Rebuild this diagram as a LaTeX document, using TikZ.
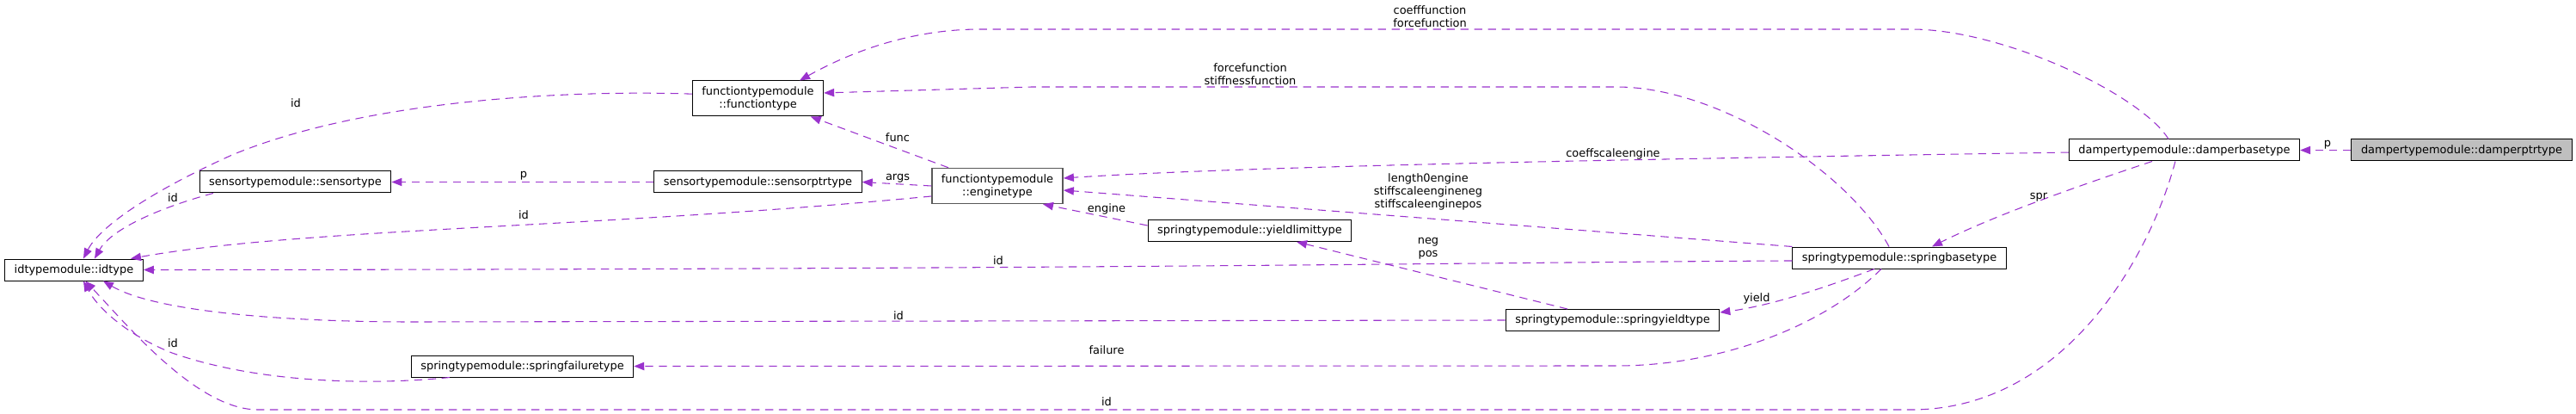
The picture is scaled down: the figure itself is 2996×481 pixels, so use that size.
\documentclass[tikz,border=0pt]{standalone}
\usepackage{fontspec}
\setmainfont{DejaVu Sans}
\usetikzlibrary{arrows.meta}
\definecolor{orchidedge}{HTML}{9A32CD}
\definecolor{ptrgray}{HTML}{BFBFBF}
\tikzset{
  cbox/.style={rectangle, draw=#1, fill=white, line width=0.75pt,
               minimum height=18.75pt, inner xsep=8.3pt, inner ysep=2pt,
               align=center, font=\fontsize{9.7}{11.25}\selectfont},
  cbox/.default=black,
  tbox/.style={cbox=#1, minimum height=30.75pt},
  tbox/.default=black,
  lbl/.style={inner sep=0pt, align=center, font=\fontsize{9.7}{11.25}\selectfont},
  arr/.style={-{Triangle[length=9pt, width=7pt]}, line width=0.8pt,
              dash pattern=on 7pt off 5pt, #1},
  arr/.default=orchidedge,
}

\begin{document}
\begin{tikzpicture}[x=0.75pt, y=-0.75pt]
  \useasboundingbox (0,0) rectangle (2996,481);

  % classes
  \node[cbox] (idtype) at (86,313.5) {idtypemodule::idtype};
  \node[tbox] (functiontype) at (881.5,114.5) {functiontypemodule\\::functiontype};
  \node[cbox] (sensortype) at (343.5,211.5) {sensortypemodule::sensortype};
  \node[cbox] (sensorptrtype) at (881.5,211.5) {sensortypemodule::sensorptrtype};
  \node[tbox=black!65, line width=1.1pt] (enginetype) at (1160,216) {functiontypemodule\\::enginetype};
  \node[cbox] (yieldlimittype) at (1453.5,268) {springtypemodule::yieldlimittype};
  \node[cbox] (springfailuretype) at (607.5,425.5) {springtypemodule::springfailuretype};
  \node[cbox] (springyieldtype) at (1875.5,372) {springtypemodule::springyieldtype};
  \node[cbox] (springbasetype) at (2209,299.5) {springtypemodule::springbasetype};
  \node[cbox] (damperbasetype) at (2540.5,174.5) {dampertypemodule::damperbasetype};
  \node[cbox, fill=ptrgray] (damperptrtype) at (2863,174.5) {dampertypemodule::damperptrtype};

  % references to idtype
  \draw[arr] ([yshift=4pt]functiontype.west) .. controls (650,104) and (420,118) .. (270,180)
    .. controls (170,225) and (115,265) .. ([xshift=8.25pt]idtype.north);
  \draw[arr] ([xshift=-71.6pt]sensortype.south) .. controls (190,240) and (130,265) .. ([xshift=18pt]idtype.north);
  \draw[arr] ([yshift=-9pt]enginetype.west) .. controls (700,265) and (350,265) .. ([xshift=49.5pt]idtype.north);
  \draw[arr] ([yshift=-2.6pt]springbasetype.west) .. controls (1700,305) and (1300,313) .. (idtype.east);
  \draw[arr] (springyieldtype.west) -- (480,374) .. controls (330,374) and (180,362) .. ([xshift=25.5pt]idtype.south);
  \draw[arr] ([xshift=-63.4pt]springfailuretype.south) .. controls (430,448) and (300,445) .. (200,410)
    .. controls (150,390) and (115,360) .. ([xshift=8.25pt]idtype.south);
  \draw[arr] ([xshift=-7.9pt]damperbasetype.south) .. controls (2500,300) and (2400,476) .. (2223,476)
    -- (300,476) .. controls (230,476) and (150,380) .. ([xshift=10pt]idtype.south);

  % other references
  \draw[arr] (sensorptrtype.west) -- (sensortype.east);
  \draw[arr] (enginetype.west) -- (sensorptrtype.east);
  \draw[arr] ([xshift=-42.75pt]enginetype.north) -- ([xshift=46pt]functiontype.south);
  \draw[arr] ([xshift=-13.9pt]damperbasetype.north) .. controls (2490,110) and (2330,34) .. (2223,34)
    -- (1140,34) .. controls (1060,34) and (990,60) .. ([xshift=36.4pt]functiontype.north);
  \draw[arr] ([xshift=-9pt]springbasetype.north) .. controls (2150,200) and (2000,101) .. (1880,101)
    -- (1200,101) -- ([yshift=4.9pt]functiontype.east);
  \draw[arr] ([yshift=-1.9pt]damperbasetype.west) .. controls (1900,185) and (1450,193) .. ([yshift=6.75pt]enginetype.east);
  \draw[arr] (springbasetype.north west) -- ([yshift=-3.75pt]enginetype.east);
  \draw[arr] ([xshift=-39.4pt]springyieldtype.north) -- ([xshift=40.9pt]yieldlimittype.south);
  \draw[arr] ([yshift=4.5pt]yieldlimittype.west) -- ([xshift=39.75pt]enginetype.south);
  \draw[arr] ([xshift=-21.75pt]springbasetype.south) .. controls (2120,335) and (2060,355) .. ([yshift=6.75pt]springyieldtype.east);
  \draw[arr] ([xshift=-15.75pt]springbasetype.south) .. controls (2120,380) and (2000,425) .. (1880,425)
    -- (springfailuretype.east);
  \draw[arr] ([xshift=-28.1pt]damperbasetype.south) .. controls (2420,215) and (2320,250) .. ([xshift=28.5pt]springbasetype.north);
  \draw[arr] (damperptrtype.west) -- (damperbasetype.east);

  % labels
  \node[lbl] (lidfunc) at (344,120) {id};
  \node[lbl] (lidsens) at (201,230) {id};
  \node[lbl] (lideng) at (609,250) {id};
  \node[lbl] (lidspr) at (1161,303) {id};
  \node[lbl] (lidyld) at (1045,367) {id};
  \node[lbl] (lidfail) at (201,399) {id};
  \node[lbl] (liddmp) at (1287,467) {id};
  \node[lbl] (lpsens) at (609,204) {p};
  \node[lbl] (largs) at (1044,207) {args};
  \node[lbl] (lfunc) at (1044,160) {func};
  \node[lbl] (lcoeff) at (1663,19.5) {coefffunction\\forcefunction};
  \node[lbl] (lforce) at (1454,86) {forcefunction\\stiffnessfunction};
  \node[lbl] (lcscale) at (1876,179) {coeffscaleengine};
  \node[lbl] (lsscale) at (1661,222.5) {length0engine\\stiffscaleengineneg\\stiffscaleenginepos};
  \node[lbl] (lnegpos) at (1661,288.5) {neg\\pos};
  \node[lbl] (lengine) at (1287,243) {engine};
  \node[lbl] (lyield) at (2043,347) {yield};
  \node[lbl] (lfail) at (1287,407) {failure};
  \node[lbl] (lspr) at (2371,229) {spr};
  \node[lbl] (lpdmp) at (2707,168) {p};
\end{tikzpicture}
\end{document}
